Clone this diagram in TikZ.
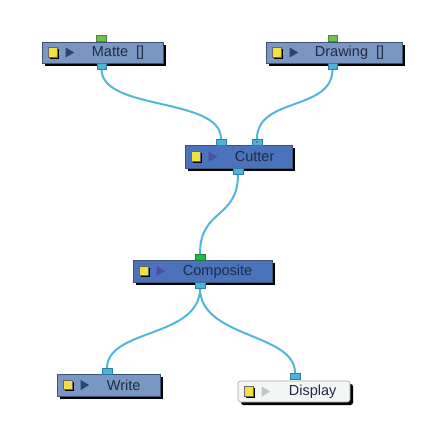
\documentclass[tikz,border=0pt]{standalone}
\usepackage{fontspec}
\setmainfont{Liberation Sans}
\usetikzlibrary{shadows,calc,backgrounds}
\definecolor{nodeA}{HTML}{7A97C4}
\definecolor{nodeB}{HTML}{4A72BD}
\definecolor{nodeW}{HTML}{F3F6F4}
\definecolor{edgeA}{HTML}{3C5276}
\definecolor{edgeW}{HTML}{A0A6A6}
\definecolor{txt}{HTML}{1F2B44}
\definecolor{triA}{HTML}{2F4674}
\definecolor{triB}{HTML}{4B4FA6}
\definecolor{triW}{HTML}{C2C6CA}
\definecolor{portblue}{HTML}{4DB2DC}
\definecolor{portedge}{HTML}{2E7EA6}
\definecolor{portgreen}{HTML}{72C04C}
\definecolor{portgreenB}{HTML}{22B84A}
\definecolor{wirec}{HTML}{52B5DA}
\definecolor{ysq}{HTML}{F2E040}
\tikzset{
  fxnode/.style={rectangle, draw=edgeA, line width=0.6pt, inner sep=0pt,
    drop shadow={shadow xshift=3pt, shadow yshift=-3pt, fill=black, opacity=1}},
  fxlabel/.style={anchor=west, inner sep=0pt, text=txt, font=\fontsize{14.5}{17}\selectfont},
  ysquare/.style={rectangle, fill=ysq, draw=black!60, line width=0.3pt, minimum width=9pt, minimum height=9.5pt, inner sep=0pt,
    drop shadow={shadow xshift=2pt, shadow yshift=-2pt, fill=black, opacity=1}},
  portO/.style={rectangle, fill=portblue, draw=portedge, line width=0.5pt, minimum width=9.5pt, minimum height=6pt, inner sep=0pt},
  portG/.style={rectangle, fill=portgreen, draw=portgreen!70!black, line width=0.5pt, minimum width=9.5pt, minimum height=6.5pt, inner sep=0pt},
  wire/.style={draw=wirec, line width=2pt, line cap=round},
}
\begin{document}
\begin{tikzpicture}[x=1pt,y=-1pt]
\useasboundingbox (0,0) rectangle (425,427);
% nodes
\node[fxnode, fill=nodeA, minimum width=121pt, minimum height=21pt] (matte) at (102.5,52.5) {};
\node[fxnode, fill=nodeA, minimum width=136pt, minimum height=21pt] (drawing) at (334,52.5) {};
\node[fxnode, fill=nodeB, minimum width=107pt, minimum height=23pt] (cutter) at (238.5,156.5) {};
\node[fxnode, fill=nodeB, minimum width=139pt, minimum height=22pt] (composite) at (202.5,271) {};
\node[fxnode, fill=nodeA, minimum width=103pt, minimum height=22pt] (write) at (108.5,385) {};
\node[fxnode, fill=nodeW, draw=edgeW, rounded corners=2.5pt, minimum width=112pt, minimum height=21pt] (display) at (294,391.5) {};
% inner decorations
\foreach \n/\t in {matte/triA, drawing/triA, cutter/triB, composite/triB, write/triA, display/triW}{
  \node[ysquare] (\n-sq) at ($(\n.west)+(10.5,-0.5)$) {};
  \fill[\t] ($(\n.west)+(24,-5)$) -- ++(8.5,5) -- ++(-8.5,5) -- cycle;
}
\node[fxlabel] (matte-t) at ($(matte.west)+(50,0.5)$) {Matte\hspace{8pt}[]};
\node[fxlabel] (drawing-t) at ($(drawing.west)+(49,0.5)$) {Drawing\hspace{8pt}[]};
\node[fxlabel] (cutter-t) at ($(cutter.west)+(50,0.5)$) {Cutter};
\node[fxlabel] (composite-t) at ($(composite.west)+(50,0.5)$) {Composite};
\node[fxlabel] (write-t) at ($(write.west)+(50,0.5)$) {Write};
\node[fxlabel] (display-t) at ($(display.west)+(51,0.5)$) {Display};
% ports
\node[portG] (matte-i) at (101,38.5) {};
\node[portO] (matte-o) at (101.5,66) {};
\node[portG] (drawing-i) at (332.5,38.5) {};
\node[portO] (drawing-o) at (332.5,66) {};
\node[portO] (cutter-i1) at (221,142) {};
\node[portO] (cutter-i2) at (257,142) {};
\fill[black!70] (cutter-i2.center) circle (0.9pt);
\node[portO] (cutter-o) at (238,171) {};
\node[portG, fill=portgreenB, draw=portgreenB!70!black] (composite-i) at (200,257) {};
\node[portO] (composite-o) at (200,285) {};
\node[portO] (write-i) at (107,371.5) {};
\node[portO] (display-i) at (295,376) {};
% connectors
\begin{pgfonlayer}{background}
\draw[wire] (matte-o.south) .. controls +(0,42) and +(0,-42) .. (cutter-i1.north);
\draw[wire] (drawing-o.south) .. controls +(0,42) and +(0,-42) .. (cutter-i2.north);
\draw[wire] (cutter-o.south) .. controls +(0,45) and +(0,-45) .. (composite-i.north);
\draw[wire] (composite-o.south) .. controls +(0,50) and +(0,-40) .. (write-i.north);
\draw[wire] (composite-o.south) .. controls +(0,50) and +(0,-40) .. (display-i.north);
\end{pgfonlayer}
\end{tikzpicture}
\end{document}
